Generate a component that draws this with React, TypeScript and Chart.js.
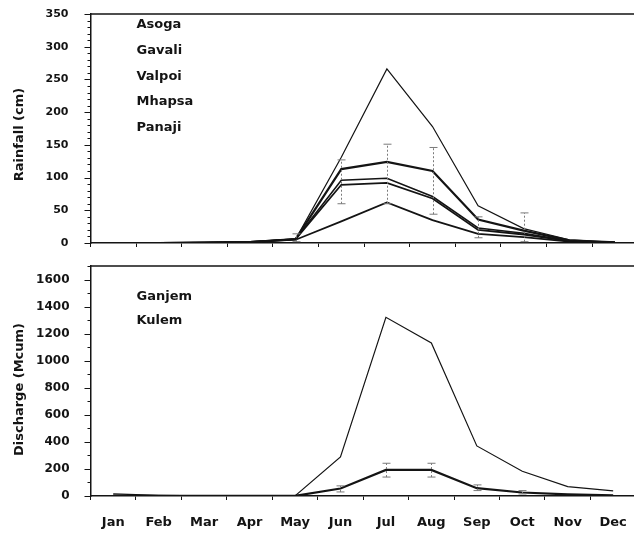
import React, { useEffect, useRef } from 'react';
import { Chart, registerables } from 'chart.js';

Chart.register(...registerables);

// Monthly categories shared by both panels
const months = ['Jan', 'Feb', 'Mar', 'Apr', 'May', 'Jun', 'Jul', 'Aug', 'Sep', 'Oct', 'Nov', 'Dec'];

// Mean monthly rainfall (cm) at each raingauge station
const stations = ['Asoga', 'Gavali', 'Valpoi', 'Mhapsa', 'Panaji'];
const asoga = [0, 0, 0.5, 1.5, 6, 131, 266, 178, 57, 22, 5, 1];
const gavali = [0, 0, 0.5, 1.5, 6, 113, 124, 110, 36, 19, 4, 1];
const valpoi = [0, 0, 0.5, 1.5, 6, 96, 99, 71, 23, 15, 3, 1];
const mhapsa = [0, 0, 0.5, 1.5, 6, 89, 92, 68, 20, 13, 3, 0.5];
const panaji = [0, 0, 0.5, 1.5, 5, 33, 62, 35, 14, 9, 2, 0.5];
const rainfallSeries = [asoga, gavali, valpoi, mhapsa, panaji];
const rainfallWidths = [1.2, 2.2, 1.6, 1.8, 1.8];
// Spread of the monthly rainfall (cm)
const rainErrLow = [null, null, null, null, 2, 60, 60, 44, 8, 2, null, null];
const rainErrHigh = [null, null, null, null, 14, 127, 151, 146, 40, 46, null, null];

// Mean monthly discharge (Mcum) at the gauging sites
const gauges = ['Ganjem', 'Kulem'];
const ganjem = [15, 5, 2, 1, 1, 289, 1321, 1131, 370, 183, 69, 38];
const kulem = [3, 2, 1, 1, 1, 55, 193, 193, 58, 26, 12, 4];
const dischargeSeries = [ganjem, kulem];
const dischargeWidths = [1.2, 2.2];
// Spread of the monthly discharge (Mcum)
const flowErrLow = [null, null, null, null, null, 30, 140, 140, 40, 15, null, null];
const flowErrHigh = [null, null, null, null, null, 75, 242, 242, 82, 40, null, null];

// Value-axis ticks
const rainTicks = { max: 350, major: 50, minor: 10 };
const flowTicks = { max: 1700, major: 200, minor: 100 };

const FONT = '"DejaVu Sans", "Liberation Sans", Arial, sans-serif';
const INK = '#141414';
const AXIS_WIDTH = 90.5;

type PanelDecor = {
  title: string;
  titleX: number;
  titleY: number;
  minorStep: number;
  majorStep: number;
  errLow: (number | null)[];
  errHigh: (number | null)[];
  nameDx: number;
  nameDy: number;
  nameGap: number;
};

// Tick marks, frame, error bars, series names and the rotated axis title
function panelPlugin(d: PanelDecor) {
  return {
    id: 'panelDecor',
    afterDatasetsDraw(chart: any) {
      const { ctx, chartArea: a, scales } = chart;
      const x = scales.x;
      const y = scales.y;
      ctx.save();

      // major and minor tick marks on the value axis
      ctx.strokeStyle = INK;
      ctx.lineWidth = 1;
      for (let v = 0; v <= y.max; v += d.minorStep) {
        const major = v % d.majorStep === 0;
        const py = Math.round(y.getPixelForValue(v)) + 0.5;
        ctx.beginPath();
        ctx.moveTo(a.left - (major ? 6 : 3), py);
        ctx.lineTo(a.left, py);
        ctx.stroke();
      }

      // error bars
      ctx.strokeStyle = '#7a7a7a';
      ctx.lineWidth = 1;
      for (let i = 0; i < d.errLow.length; i++) {
        const lo = d.errLow[i];
        const hi = d.errHigh[i];
        if (lo == null || hi == null) continue;
        const px = Math.round(x.getPixelForValue(i)) + 0.5;
        const pLo = y.getPixelForValue(lo);
        const pHi = y.getPixelForValue(hi);
        ctx.setLineDash([2, 2]);
        ctx.beginPath();
        ctx.moveTo(px, pLo);
        ctx.lineTo(px, pHi);
        ctx.stroke();
        ctx.setLineDash([]);
        ctx.beginPath();
        ctx.moveTo(px - 4, pLo);
        ctx.lineTo(px + 4, pLo);
        ctx.moveTo(px - 4, pHi);
        ctx.lineTo(px + 4, pHi);
        ctx.stroke();
      }

      // top and right frame
      ctx.strokeStyle = INK;
      ctx.lineWidth = 1.5;
      ctx.beginPath();
      ctx.moveTo(a.left, a.top);
      ctx.lineTo(a.right, a.top);
      ctx.lineTo(a.right, a.bottom);
      ctx.stroke();

      // series names
      ctx.fillStyle = INK;
      ctx.font = `bold 13px ${FONT}`;
      ctx.textAlign = 'left';
      ctx.textBaseline = 'middle';
      chart.data.datasets.forEach((ds: any, i: number) => {
        ctx.fillText(ds.label, a.left + d.nameDx, a.top + d.nameDy + i * d.nameGap);
      });

      // axis title
      ctx.translate(d.titleX, d.titleY);
      ctx.rotate(-Math.PI / 2);
      ctx.textAlign = 'center';
      ctx.fillText(d.title, 0, 0);
      ctx.restore();
    },
  };
}

function buildConfig(
  labels: string[],
  series: number[][],
  widths: number[],
  ticks: { max: number; major: number },
  opts: { showMonths: boolean; tickFont: number; padTop: number; padBottom: number; labelGap: number }
) {
  return {
    type: 'line' as const,
    data: {
      labels: months,
      datasets: series.map((values, i) => ({
        label: labels[i],
        data: values,
        borderColor: INK,
        borderWidth: widths[i],
        pointRadius: 0,
        tension: 0,
        fill: false,
      })),
    },
    options: {
      responsive: false,
      animation: false as const,
      devicePixelRatio: 1,
      layout: {
        padding: { top: opts.padTop, right: 4.3, bottom: opts.padBottom, left: 0 },
      },
      plugins: { legend: { display: false }, tooltip: { enabled: false } },
      scales: {
        x: {
          type: 'category' as const,
          offset: true,
          grid: { offset: true, drawOnChartArea: false, drawTicks: true, tickLength: 4, color: INK },
          border: { display: true, color: INK, width: 1.5 },
          ticks: {
            display: opts.showMonths,
            color: INK,
            padding: 15,
            maxRotation: 0,
            autoSkip: false,
            font: { family: FONT, size: 13, weight: 'bold' as const },
          },
        },
        y: {
          type: 'linear' as const,
          min: 0,
          max: ticks.max,
          afterFit: (s: any) => {
            s.width = AXIS_WIDTH;
          },
          // tick marks are drawn by the panel plugin; the tick length here only spaces the labels
          grid: {
            drawOnChartArea: false,
            drawTicks: true,
            tickLength: opts.labelGap,
            tickColor: 'rgba(0,0,0,0)',
          },
          border: { display: true, color: INK, width: 1.5 },
          ticks: {
            stepSize: ticks.major,
            includeBounds: false,
            color: INK,
            padding: 0,
            callback: (v: number | string) => String(v),
            font: { family: FONT, size: opts.tickFont, weight: 'bold' as const },
          },
        },
      },
    },
  };
}

export default function App() {
  const rainRef = useRef<HTMLCanvasElement>(null);
  const flowRef = useRef<HTMLCanvasElement>(null);

  useEffect(() => {
    if (!rainRef.current || !flowRef.current) return;

    const rainCfg: any = buildConfig(stations, rainfallSeries, rainfallWidths, rainTicks, {
      showMonths: false,
      tickFont: 11,
      padTop: 14,
      padBottom: 3,
      labelGap: 22,
    });
    rainCfg.plugins = [
      panelPlugin({
        title: 'Rainfall (cm)',
        titleX: 19.5,
        titleY: 134.5,
        minorStep: rainTicks.minor,
        majorStep: rainTicks.major,
        errLow: rainErrLow,
        errHigh: rainErrHigh,
        nameDx: 46,
        nameDy: 11,
        nameGap: 25.7,
      }),
    ];

    const flowCfg: any = buildConfig(gauges, dischargeSeries, dischargeWidths, flowTicks, {
      showMonths: true,
      tickFont: 12,
      padTop: 11,
      padBottom: 5.4,
      labelGap: 21,
    });
    flowCfg.plugins = [
      panelPlugin({
        title: 'Discharge (Mcum)',
        titleX: 20,
        titleY: 134.5,
        minorStep: flowTicks.minor,
        majorStep: flowTicks.major,
        errLow: flowErrLow,
        errHigh: flowErrHigh,
        nameDx: 46,
        nameDy: 30.7,
        nameGap: 24,
      }),
    ];

    const rainChart = new Chart(rainRef.current, rainCfg);
    const flowChart = new Chart(flowRef.current, flowCfg);
    return () => {
      rainChart.destroy();
      flowChart.destroy();
    };
  }, []);

  return (
    <div
      style={{
        position: 'absolute',
        left: 0,
        top: 0,
        width: 634,
        height: 535,
        overflow: 'hidden',
        background: '#fff',
      }}
    >
      <canvas
        ref={rainRef}
        width={642}
        height={250}
        style={{ position: 'absolute', left: 0, top: 0, width: 642, height: 250 }}
      />
      <canvas
        ref={flowRef}
        width={642}
        height={296}
        style={{ position: 'absolute', left: 0, top: 255, width: 642, height: 296 }}
      />
    </div>
  );
}
